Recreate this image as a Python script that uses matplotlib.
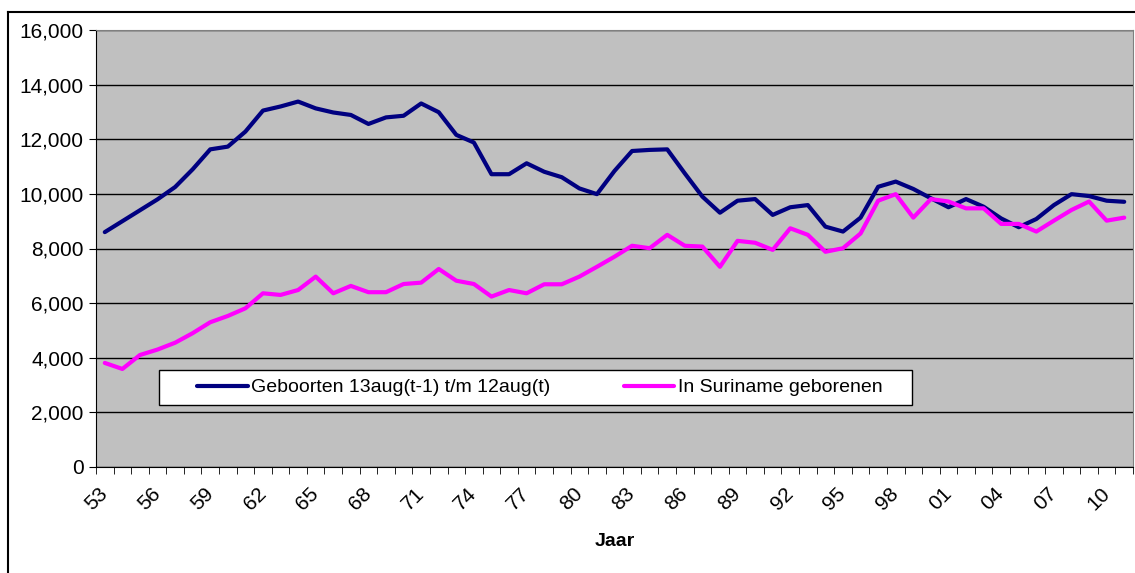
import matplotlib.pyplot as plt
from matplotlib.lines import Line2D
from matplotlib.patches import Rectangle

plt.rcParams['font.family'] = ['Liberation Sans', 'DejaVu Sans']

# jaren 1953 t/m 2011
jaren = list(range(1953, 2012))
geboorten = [8600, 9000, 9400, 9800, 10250, 10900, 11630, 11730, 12280, 13050,
             13200, 13380, 13130, 12980, 12890, 12560, 12800, 12860, 13310, 12990,
             12160, 11880, 10720, 10720, 11120, 10810, 10610, 10200, 9990, 10840,
             11570, 11610, 11630, 10750, 9900, 9310, 9750, 9810, 9230, 9510,
             9590, 8800, 8620, 9130, 10260, 10450, 10180, 9840, 9510, 9810,
             9530, 9100, 8780, 9080, 9590, 9990, 9920, 9750, 9710]
suriname = [3810, 3590, 4100, 4300, 4550, 4900, 5300, 5530, 5810, 6360,
            6300, 6480, 6970, 6360, 6630, 6400, 6400, 6700, 6750, 7250,
            6820, 6700, 6240, 6480, 6360, 6690, 6690, 6970, 7330, 7700,
            8100, 8010, 8500, 8100, 8070, 7330, 8280, 8210, 7950, 8740,
            8500, 7880, 8010, 8550, 9750, 9990, 9130, 9810, 9720, 9470,
            9470, 8900, 8900, 8620, 9020, 9410, 9720, 9020, 9130]
labels = ['%02d' % (j % 100) for j in jaren]

fig = plt.figure(figsize=(11.35, 5.73), dpi=100)
ax = fig.add_axes([96/1135, 106/573, 1037/1135, 437/573])
ax.set_facecolor('#C0C0C0')

x = list(range(len(jaren)))
ax.plot(x, geboorten, color='#000080', lw=3, label='Geboorten 13aug(t-1) t/m 12aug(t)',
        solid_joinstyle='round', solid_capstyle='round')
ax.plot(x, suriname, color='#FF00FF', lw=3, label='In Suriname geborenen',
        solid_joinstyle='round', solid_capstyle='round')

ax.set_xlim(-0.5, len(jaren) - 0.5)
ax.set_ylim(0, 16000)
ax.set_yticks(range(0, 16001, 2000))
ax.set_yticklabels(['{:,}'.format(v) for v in range(0, 16001, 2000)], fontsize=15)
ax.yaxis.grid(True, color='black', lw=1)
ax.set_axisbelow(True)

ax.set_xticks([i - 0.5 for i in range(len(jaren) + 1)], minor=True)
ax.set_xticks(x[::3])
ax.set_xticklabels(labels[::3], fontsize=15, rotation=45, ha='right',
                   va='center', rotation_mode='anchor')
ax.tick_params(axis='x', which='major', length=0, pad=17)
ax.tick_params(axis='x', which='minor', length=5, direction='out', color='black')
ax.tick_params(axis='y', length=5, direction='out', color='black', pad=4)
ax.set_xlabel('Jaar', fontsize=14, fontweight='bold', labelpad=14)

for s in ['top', 'right']:
    ax.spines[s].set_color('#808080')
for s in ['left', 'bottom']:
    ax.spines[s].set_color('black')

# legend box
ax.add_patch(Rectangle((63/1037, 62/437), 753/1037, 35/437, transform=ax.transAxes,
                       facecolor='white', edgecolor='black', lw=1, zorder=4))
leg = ax.legend(loc='center left', bbox_to_anchor=(101/1037, 79.5/437),
                ncol=2, borderaxespad=0, borderpad=0, fontsize=14, frameon=False,
                handlelength=2.6, handletextpad=0.2, columnspacing=3.75)

fig.add_artist(Line2D([8/1135, 8/1135], [0, 1 - 12/573], color='black', lw=1.5))
fig.add_artist(Line2D([8/1135, 1], [1 - 12/573, 1 - 12/573], color='black', lw=1.5))

fig.savefig('out.png', dpi=100)
